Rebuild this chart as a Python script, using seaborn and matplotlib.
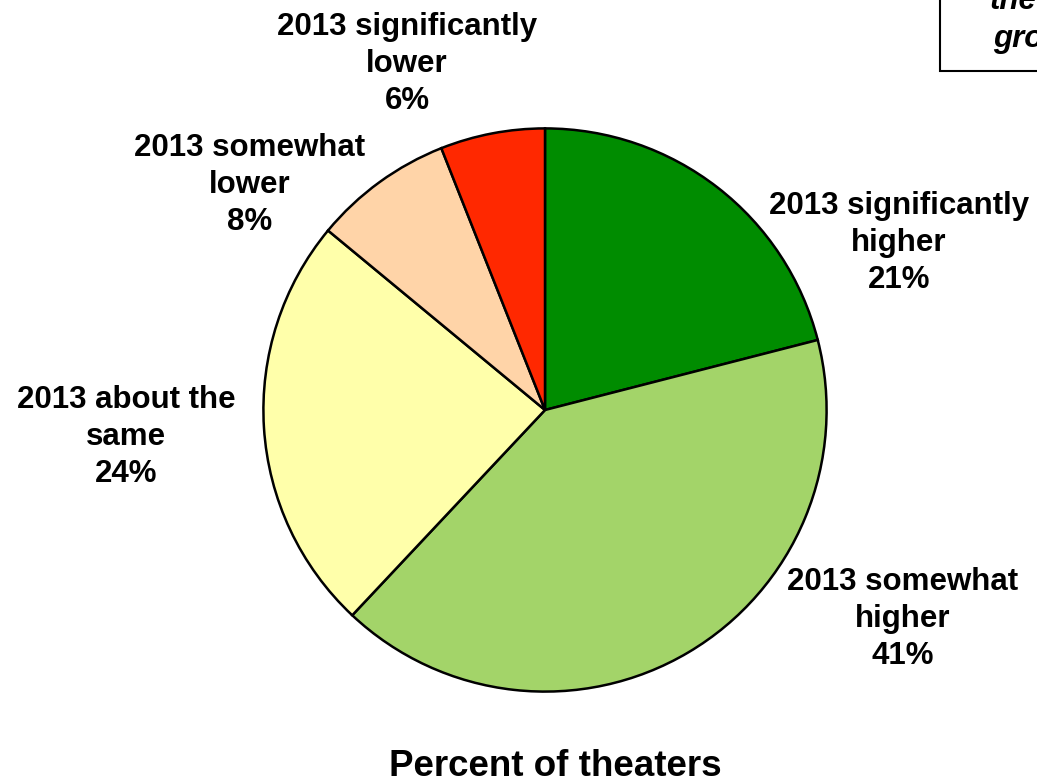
import matplotlib
matplotlib.use("Agg")
import matplotlib.pyplot as plt
import seaborn as sns
from matplotlib.patches import Rectangle

# Share of theaters by how 2013 compared with the prior year
categories = [
    "2013 significantly\nhigher",
    "2013 somewhat\nhigher",
    "2013 about the\nsame",
    "2013 somewhat\nlower",
    "2013 significantly\nlower",
]
shares = [21, 41, 24, 8, 6]
colors = ["#008C00", "#A3D469", "#FFFFAA", "#FFD4A8", "#FF2800"]

sns.set_theme(style="white")
plt.rcParams["font.family"] = ["Liberation Sans", "DejaVu Sans"]
plt.rcParams["text.color"] = "black"

W, H = 1037, 781
fig = plt.figure(figsize=(W / 100, H / 100), dpi=100)
fig.patch.set_facecolor("white")

# pie centred at (545, 410) px with a 283 px radius
cx, cy, r = 545, 410, 283
ax = fig.add_axes([(cx - r) / W, (H - cy - r) / H, 2 * r / W, 2 * r / H])
wedges, _ = ax.pie(
    shares,
    colors=colors,
    startangle=90,
    counterclock=False,
    radius=1.0,
    wedgeprops=dict(edgecolor="black", linewidth=1.8),
)
ax.set_xlim(-1.005, 1.005)
ax.set_ylim(-1.005, 1.005)
ax.set_aspect("equal")
ax.axis("off")

# label centres in pixel space (x, y of the middle line)
label_pos = [(899, 240), (903, 616), (126, 434), (250, 182), (407, 61)]
for cat, val, (lx, ly) in zip(categories, shares, label_pos):
    fig.text(lx / W, 1 - (ly + 3) / H, f"{cat}\n{val}%",
             ha="center", va="center", fontsize=22.5, fontweight="bold",
             linespacing=1.3, color="black")

fig.text(555 / W, 1 - 767 / H, "Percent of theaters",
         ha="center", va="center", fontsize=26.5, fontweight="bold",
         color="black")

# note box running off the top-right corner
fig.add_artist(Rectangle((940 / W, 1 - 71 / H), 200 / W, 120 / H,
                         transform=fig.transFigure, facecolor="white",
                         edgecolor="black", linewidth=1.5, clip_on=False))
fig.text(990 / W, 1 - 9 / H, "the", ha="left", va="baseline",
         fontsize=22.5, fontweight="bold", fontstyle="italic", color="black")
fig.text(993 / W, 1 - 47 / H, "growth", ha="left", va="baseline",
         fontsize=22.5, fontweight="bold", fontstyle="italic", color="black")

fig.savefig("out.png", dpi=100)
